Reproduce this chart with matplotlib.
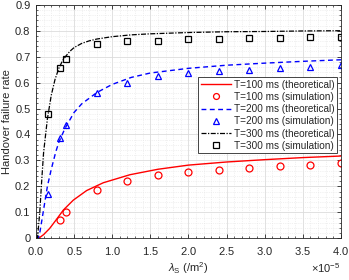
import matplotlib
matplotlib.use("Agg")
import matplotlib.pyplot as plt
import numpy as np
from matplotlib.ticker import MultipleLocator, ScalarFormatter

# simulation points (x in units of 1/m^2)
x_sim = [0.16e-5, 0.32e-5, 0.40e-5, 0.8e-5, 1.2e-5, 1.6e-5, 2.0e-5, 2.4e-5, 2.8e-5, 3.2e-5, 3.6e-5, 4.0e-5]
sim_100 = [np.nan, 0.070, 0.101, 0.186, 0.222, 0.243, 0.256, 0.264, 0.272, 0.278, 0.283, 0.291]
sim_200 = [0.169, 0.385, 0.438, 0.561, 0.600, 0.624, 0.637, 0.643, 0.650, 0.656, 0.660, 0.668]
sim_300 = [0.478, 0.658, 0.692, 0.747, 0.759, 0.762, 0.768, 0.768, 0.770, 0.770, 0.775, 0.775]

# theoretical curves
x_t100 = [0, 0.05e-5, 0.1e-5, 0.18e-5, 0.27e-5, 0.36e-5, 0.49e-5, 0.665e-5, 0.883e-5, 1.233e-5,
          1.6e-5, 2.0e-5, 2.5e-5, 3.0e-5, 3.5e-5, 4.0e-5]
th_100 = [0, 0.003, 0.014, 0.038, 0.073, 0.109, 0.147, 0.184, 0.214, 0.245,
          0.266, 0.282, 0.294, 0.303, 0.311, 0.317]
x_t200 = [0, 0.03e-5, 0.05e-5, 0.1e-5, 0.15e-5, 0.2e-5, 0.26e-5, 0.3e-5, 0.38e-5, 0.5e-5, 0.6e-5,
          0.8e-5, 1.0e-5, 1.25e-5, 1.5e-5, 2.0e-5, 2.5e-5, 3.0e-5, 3.5e-5, 4.0e-5]
th_200 = [0, 0.0, 0.02, 0.11, 0.20, 0.265, 0.333, 0.37, 0.423, 0.485, 0.518,
          0.562, 0.593, 0.620, 0.637, 0.655, 0.667, 0.675, 0.682, 0.688]
x_t300 = [0, 0.02e-5, 0.05e-5, 0.075e-5, 0.1e-5, 0.15e-5, 0.2e-5, 0.25e-5, 0.3e-5, 0.35e-5, 0.4e-5,
          0.45e-5, 0.5e-5, 0.6e-5, 0.7e-5, 0.8e-5, 1.0e-5, 1.25e-5, 1.5e-5, 2.0e-5, 2.5e-5,
          3.0e-5, 3.5e-5, 4.0e-5]
th_300 = [0, 0.0, 0.10, 0.22, 0.33, 0.46, 0.55, 0.612, 0.655, 0.685, 0.705,
          0.722, 0.735, 0.751, 0.761, 0.768, 0.777, 0.784, 0.788, 0.793, 0.796,
          0.797, 0.799, 0.80]

labels = ["T=100 ms (theoretical)", "T=100 ms (simulation)",
          "T=200 ms (theoretical)", "T=200 ms (simulation)",
          "T=300 ms (theoretical)", "T=300 ms (simulation)"]

plt.rcParams['font.family'] = ['Liberation Sans', 'DejaVu Sans']
plt.rcParams['mathtext.fontset'] = 'custom'
plt.rcParams['mathtext.rm'] = 'Liberation Sans'
plt.rcParams['mathtext.it'] = 'Liberation Sans:italic'
plt.rcParams['mathtext.bf'] = 'Liberation Sans:bold'

fig = plt.figure(figsize=(3.49, 2.80), dpi=100)
ax = fig.add_axes([0.103, 0.149, 0.874, 0.834])

dark = '#262626'
ax.plot(x_t100, th_100, '-', color='red', lw=1.0, label=labels[0])
ax.plot(x_sim, sim_100, 'o', color='red', mfc='none', ms=5, mew=0.9, label=labels[1])
ax.plot(x_t200, th_200, '--', color='blue', lw=1.0, label=labels[2], dashes=(3.5, 2.5))
ax.plot(x_sim, sim_200, '^', color='blue', mfc='none', ms=5, mew=0.9, label=labels[3])
ax.plot(x_t300, th_300, '-.', color='black', lw=0.9, label=labels[4], dashes=(4, 1.2, 1, 1.2))
ax.plot(x_sim, sim_300, 's', color='black', mfc='none', ms=4.4, mew=0.9, label=labels[5])

ax.set_xlim(0, 4e-5)
ax.set_ylim(0, 0.9)
ax.xaxis.set_major_locator(MultipleLocator(0.5e-5))
ax.xaxis.set_minor_locator(MultipleLocator(0.1e-5))
ax.yaxis.set_minor_locator(MultipleLocator(0.02))
fmt = ScalarFormatter(useMathText=True)
fmt.set_powerlimits((-3, 3))
ax.xaxis.set_major_formatter(fmt)
ax.set_yticks(np.arange(0, 0.91, 0.1))
ax.set_yticklabels(['0'] + ['%.1f' % v for v in np.arange(0.1, 0.91, 0.1)])

ax.grid(True, which='major', color='#dcdcdc', lw=0.6)
ax.grid(True, which='minor', color='#e4e4e4', lw=0.5, ls=':')
ax.set_axisbelow(True)
ax.tick_params(which='both', direction='in', top=True, right=True, colors=dark,
               labelsize=8, labelcolor=dark)
ax.tick_params(which='major', length=3, width=0.6)
ax.tick_params(which='minor', length=1.5, width=0.5)
ax.tick_params(axis='x', which='major', pad=5)
ax.tick_params(axis='y', which='major', pad=4)
for s in ax.spines.values():
    s.set_color(dark)
    s.set_linewidth(0.6)
ax.xaxis.get_offset_text().set_fontsize(8)
ax.xaxis.get_offset_text().set_color(dark)

ax.set_ylabel('Handover failure rate', fontsize=8, color=dark, labelpad=2)
ax.set_xlabel(r'$\lambda_{\mathrm{S}}$ (/m$^2$)', fontsize=8, color=dark, labelpad=2)

leg = ax.legend(loc='lower right', bbox_to_anchor=(0.986, 0.364), fontsize=7.2, frameon=True,
                fancybox=False, edgecolor=dark, framealpha=1, handlelength=3.0,
                labelspacing=0.22, borderpad=0.25, handletextpad=0.3, borderaxespad=0.0,
                markerscale=0.85)
leg.get_frame().set_linewidth(0.6)
for t in leg.get_texts():
    t.set_color(dark)

fig.savefig('out.png', dpi=100)
